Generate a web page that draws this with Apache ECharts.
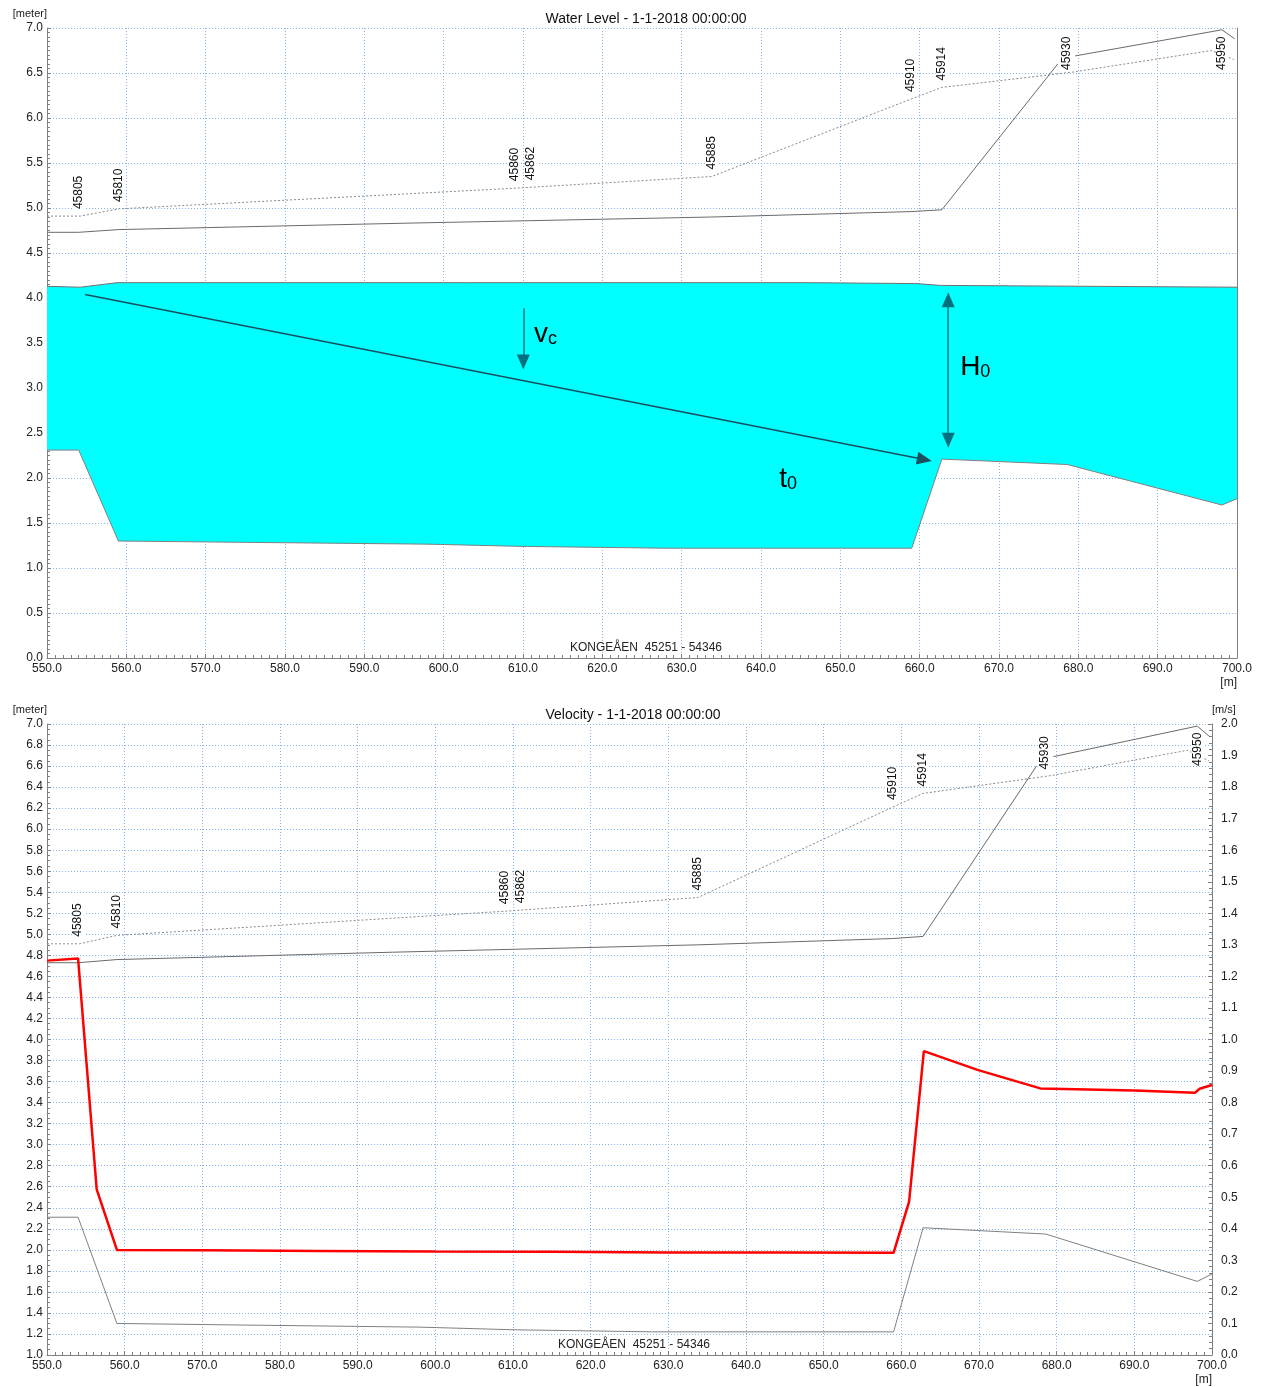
<!DOCTYPE html>
<html>
<head>
<meta charset="utf-8">
<title>Water Level / Velocity - KONGEÅEN</title>
<script src="https://cdn.jsdelivr.net/npm/echarts@6/dist/echarts.min.js"></script>
<style>
  html, body { margin: 0; padding: 0; background: #fff; }
  #chart { width: 1269px; height: 1387px; }
</style>
</head>
<body>
<div id="chart"></div>
<script>
// chainage axis [m]
const xMin = 550;
const xMax = 700;
const xStep = 10;

// water surface (top of cyan area) [meter]
const waterX = [550, 554.2, 558.8, 646.6, 659.7, 662.6, 700];
const waterY = [4.13, 4.12, 4.17, 4.17, 4.16, 4.14, 4.12];

// river bed [meter]
const bedX = [550, 554.0, 559.0, 575, 598, 610, 628, 659.0, 662.8, 678.6, 698.1, 700];
const bedY = [2.31, 2.31, 1.30, 1.285, 1.265, 1.24, 1.22, 1.22, 2.21, 2.15, 1.70, 1.77];

// left bank (dotted) [meter]
const bankLX = [550, 554.2, 559.0, 609.0, 633.8, 658.9, 662.8, 679.3, 696.8, 699.6];
const bankLY = [4.91, 4.91, 4.99, 5.22, 5.35, 6.21, 6.34, 6.51, 6.75, 6.65];

// right bank (solid), null = break in line [meter]
const bankRX = [550, 554.0, 559.0, 594.5, 633.8, 658.9, 662.8, 677.4, 678.5, 679.6, 698.1, 699.7];
const bankRY = [4.73, 4.73, 4.76, 4.83, 4.90, 4.96, 4.98, 6.60, null, 6.69, 6.98, 6.88];

// velocity [m/s]
const velX = [550, 554.0, 556.4, 559.0, 570, 585, 600, 615, 630, 645, 659.0, 661.0, 662.9, 669.9, 677.9, 690, 697.8, 698.4, 700];
const velY = [1.25, 1.257, 0.525, 0.333, 0.332, 0.330, 0.328, 0.327, 0.325, 0.325, 0.324, 0.486, 0.963, 0.903, 0.845, 0.838, 0.831, 0.844, 0.856];

// cross-section markers
const markerNames = ['45805', '45810', '45860', '45862', '45885', '45910', '45914', '45930', '45950'];
const markerX = [554.0, 559.0, 608.9, 611.0, 633.8, 658.9, 662.8, 678.5, 698.1];
const markerY = [4.91, 4.99, 5.22, 5.23, 5.35, 6.21, 6.34, 6.50, 6.76];

// annotation arrows in the water level plot (from / to)
const arrowFrom = [[554.8, 4.04], [610.04, 3.886], [663.6, 3.98]];
const arrowTo = [[660.6, 2.206], [610.04, 3.29], [663.6, 2.42]];
const arrowBoth = [false, false, true];

// annotation texts
const annoMain = ['v', 'H', 't'];
const annoSub = ['c', '0', '0'];
const annoX = [611.4, 665.1, 642.3];
const annoY = [3.444, 3.072, 1.833];

const font = 'Arial, "Liberation Sans", sans-serif';
const gridColor = '#84b6ee';
const axisColor = '#808080';

const pairs = (xs, ys) => xs.map((x, i) => [x, ys[i] == null ? '-' : ys[i]]);

const xAxisBase = (gridIndex) => ({
  gridIndex,
  type: 'value',
  min: xMin,
  max: xMax,
  interval: xStep,
  name: '[m]',
  nameLocation: 'end',
  nameGap: 0,
  nameTextStyle: { color: '#222', fontSize: 12, fontFamily: font, align: 'right', verticalAlign: 'top', padding: [19, 0, 0, 0] },
  axisLine: { show: true, onZero: false, lineStyle: { color: axisColor } },
  axisTick: { show: true, inside: true, length: 4, lineStyle: { color: axisColor } },
  minorTick: { show: true, splitNumber: 10, length: 3, lineStyle: { color: axisColor } },
  axisLabel: { color: '#222', fontSize: 12, fontFamily: font, margin: 5, formatter: (v) => v.toFixed(1) },
  splitLine: { show: true, lineStyle: { color: gridColor, type: [1, 2] } },
});

const yAxisLeft = (gridIndex, min, max, interval, minorSplit) => ({
  gridIndex,
  type: 'value',
  position: 'left',
  min,
  max,
  interval,
  name: '[meter]',
  nameLocation: 'end',
  nameGap: 9,
  nameTextStyle: { color: '#222', fontSize: 11, fontFamily: font, align: 'right' },
  axisLine: { show: true, onZero: false, lineStyle: { color: axisColor } },
  axisTick: { show: true, inside: true, length: 4, lineStyle: { color: axisColor } },
  minorTick: { show: true, splitNumber: minorSplit, length: 3, lineStyle: { color: axisColor } },
  axisLabel: { color: '#222', fontSize: 12, fontFamily: font, margin: 4, formatter: (v) => v.toFixed(1) },
  splitLine: { show: true, lineStyle: { color: gridColor, type: [1, 2] } },
});

// rotated cross-section labels, kept inside the plot
const markerItem = (params, api) => {
  const p = api.coord([api.value(0), api.value(1)]);
  const top = params.coordSys.y + 8;
  let base = p[1] - 7;
  if (base - 34 < top) base = top + 34;
  return {
    type: 'text',
    x: p[0],
    y: base,
    rotation: Math.PI / 2,
    style: {
      text: markerNames[params.dataIndex],
      fontSize: 12,
      fontFamily: font,
      fill: '#111',
      align: 'left',
      verticalAlign: 'middle',
      backgroundColor: '#fff',
    },
  };
};

const annoItem = (params, api) => {
  const p = api.coord([api.value(0), api.value(1)]);
  const i = params.dataIndex;
  return {
    type: 'text',
    x: p[0],
    y: p[1],
    style: {
      text: `{m|${annoMain[i]}}{s|${annoSub[i]}}`,
      align: 'left',
      verticalAlign: 'bottom',
      rich: {
        m: { fontSize: 28, lineHeight: 28, fontFamily: font, fill: '#000', color: '#000', verticalAlign: 'bottom' },
        s: { fontSize: 18, lineHeight: 18, fontFamily: font, fill: '#000', color: '#000', verticalAlign: 'bottom' },
      },
    },
  };
};

// cyan wet area between surface and bed
const waterItem = (params, api) => {
  const pts = waterX.map((x, i) => api.coord([x, waterY[i]]));
  for (let i = bedX.length - 1; i >= 0; i--) pts.push(api.coord([bedX[i], bedY[i]]));
  return { type: 'polygon', shape: { points: pts }, style: { fill: '#00ffff' } };
};

const arrowColors = ['#17505e', '#00707f', '#00707f'];
const arrowLines = arrowFrom.map((f, i) => {
  const ls = { color: arrowColors[i], width: 1.5, type: 'solid' };
  return [
    { coord: f, symbol: arrowBoth[i] ? 'triangle' : 'none', symbolSize: [13, 15], lineStyle: ls },
    { coord: arrowTo[i], symbol: 'triangle', symbolSize: [13, 15], lineStyle: ls },
  ];
});

const chart = echarts.init(document.getElementById('chart'), null, { renderer: 'canvas' });

const option = {
  animation: false,
  backgroundColor: '#fff',
  textStyle: { fontFamily: font },
  title: [
    { text: 'Water Level - 1-1-2018 00:00:00', left: 641, top: 7, textAlign: 'center', textStyle: { fontSize: 14, fontWeight: 'normal', color: '#111', fontFamily: font } },
    { text: 'KONGEÅEN  45251 - 54346', left: 641, top: 637, textAlign: 'center', textStyle: { fontSize: 12, fontWeight: 'normal', color: '#222', fontFamily: font } },
    { text: 'Velocity - 1-1-2018 00:00:00', left: 628, top: 703, textAlign: 'center', textStyle: { fontSize: 14, fontWeight: 'normal', color: '#111', fontFamily: font } },
    { text: 'KONGEÅEN  45251 - 54346', left: 629, top: 1334, textAlign: 'center', textStyle: { fontSize: 12, fontWeight: 'normal', color: '#222', fontFamily: font } },
  ],
  grid: [
    { left: 47, top: 28, width: 1190, height: 630, containLabel: false, outerBoundsMode: 'none' },
    { left: 47, top: 724, width: 1165, height: 631, containLabel: false, outerBoundsMode: 'none' },
  ],
  xAxis: [xAxisBase(0), xAxisBase(1)],
  yAxis: [
    yAxisLeft(0, 0, 7, 0.5, 10),
    {
      gridIndex: 0, type: 'value', position: 'right', min: 0, max: 7,
      axisLine: { show: true, onZero: false, lineStyle: { color: axisColor } },
      axisTick: { show: false }, axisLabel: { show: false }, splitLine: { show: false },
    },
    yAxisLeft(1, 1, 7, 0.2, 4),
    {
      gridIndex: 1, type: 'value', position: 'right', min: 0, max: 2, interval: 0.1,
      name: '[m/s]', nameLocation: 'end', nameGap: 9,
      nameTextStyle: { color: '#222', fontSize: 11, fontFamily: font, align: 'left' },
      axisLine: { show: true, onZero: false, lineStyle: { color: axisColor } },
      axisTick: { show: true, inside: true, length: 4, lineStyle: { color: axisColor } },
      minorTick: { show: true, splitNumber: 5, length: 3, lineStyle: { color: axisColor } },
      axisLabel: { color: '#222', fontSize: 12, fontFamily: font, margin: 9, formatter: (v) => v.toFixed(1) },
      splitLine: { show: false },
    },
  ],
  series: [
    // ---- water level plot ----
    { type: 'custom', xAxisIndex: 0, yAxisIndex: 0, z: 1, silent: true, renderItem: waterItem, data: [[waterX[0], waterY[0]]] },
    {
      type: 'line', xAxisIndex: 0, yAxisIndex: 0, z: 3, symbol: 'none', silent: true,
      lineStyle: { color: '#707070', width: 1 }, data: pairs(waterX, waterY),
      markLine: { silent: true, animation: false, label: { show: false }, data: arrowLines },
    },
    { type: 'line', xAxisIndex: 0, yAxisIndex: 0, z: 3, symbol: 'none', silent: true, lineStyle: { color: '#808080', width: 1 }, data: pairs(bedX, bedY) },
    { type: 'line', xAxisIndex: 0, yAxisIndex: 0, z: 3, symbol: 'none', silent: true, lineStyle: { color: '#8a8a8a', width: 1, type: [2, 2] }, data: pairs(bankLX, bankLY) },
    { type: 'line', xAxisIndex: 0, yAxisIndex: 0, z: 3, symbol: 'none', silent: true, connectNulls: false, lineStyle: { color: '#6a6a6a', width: 1 }, data: pairs(bankRX, bankRY) },
    { type: 'custom', xAxisIndex: 0, yAxisIndex: 0, z: 5, silent: true, renderItem: markerItem, data: pairs(markerX, markerY) },
    { type: 'custom', xAxisIndex: 0, yAxisIndex: 0, z: 5, silent: true, renderItem: annoItem, data: pairs(annoX, annoY) },

    // ---- velocity plot ----
    { type: 'line', xAxisIndex: 1, yAxisIndex: 2, z: 3, symbol: 'none', silent: true, lineStyle: { color: '#808080', width: 1 }, data: pairs(bedX, bedY) },
    { type: 'line', xAxisIndex: 1, yAxisIndex: 2, z: 3, symbol: 'none', silent: true, lineStyle: { color: '#8a8a8a', width: 1, type: [2, 2] }, data: pairs(bankLX, bankLY) },
    { type: 'line', xAxisIndex: 1, yAxisIndex: 2, z: 3, symbol: 'none', silent: true, connectNulls: false, lineStyle: { color: '#6a6a6a', width: 1 }, data: pairs(bankRX, bankRY) },
    { type: 'custom', xAxisIndex: 1, yAxisIndex: 2, z: 5, silent: true, renderItem: markerItem, data: pairs(markerX, markerY) },
    { type: 'line', xAxisIndex: 1, yAxisIndex: 3, z: 4, symbol: 'none', silent: true, lineStyle: { color: '#ff0000', width: 2.5 }, data: pairs(velX, velY) },
  ],
};

chart.setOption(option);
</script>
</body>
</html>
